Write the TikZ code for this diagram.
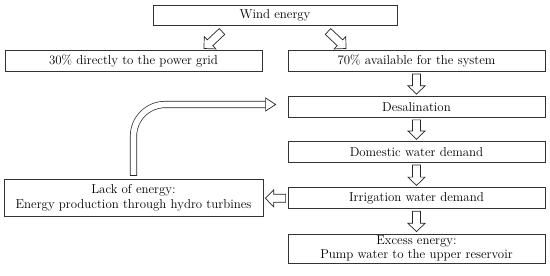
\documentclass[tikz,border=0pt]{standalone}
\usetikzlibrary{calc}

\begin{document}
\begin{tikzpicture}[
  x=0.03cm, y=-0.03cm,
  font=\fontsize{11}{12.5}\selectfont,
  box/.style={draw=black!80, line width=0.6pt, minimum width=7.71cm, minimum height=0.63cm,
    inner sep=1pt, align=center, text=black},
  hollow/.style={draw=black!85, line width=0.6pt, fill=white, line join=miter},
  bentshaft/.style={draw=black!85, line width=0.6pt, double=white, double distance=0.17cm}
]
  \useasboundingbox (0,0) rectangle (550,275);

  % Block arrow sizes (shaft half width, head half width, head length)
  \def\shafthalf{0.12cm}
  \def\headhalf{0.255cm}
  \def\headlen{0.25cm}
  \def\hollowarrow#1#2{%
    \coordinate (ha-s) at (#1);
    \coordinate (ha-e) at (#2);
    \coordinate (ha-b) at ($(ha-e)!\headlen!(ha-s)$);
    \draw[hollow] ($(ha-s)!\shafthalf!90:(ha-e)$) -- ($(ha-b)!\shafthalf!90:(ha-e)$)
      -- ($(ha-b)!\headhalf!90:(ha-e)$) -- (ha-e) -- ($(ha-b)!\headhalf!-90:(ha-e)$)
      -- ($(ha-b)!\shafthalf!-90:(ha-e)$) -- ($(ha-s)!\shafthalf!-90:(ha-e)$) -- cycle;
  }

  % Top and the split
  \node[box, minimum width=7.32cm, minimum height=0.62cm] (wind) at (275,15.3) {Wind energy};
  \node[box] (grid)  at (133.5,61.2) {30\% directly to the power grid};
  \node[box] (avail) at (416.5,61.2) {70\% available for the system};

  % Right column
  \node[box] (desal)    at (416.5,107)   {Desalination};
  \node[box] (domestic) at (416.5,152.2) {Domestic water demand};
  \node[box] (irrig)    at (416.5,198.3) {Irrigation water demand};
  \node[box, minimum height=0.87cm, inner sep=0pt, font=\fontsize{11}{11.5}\selectfont] (excess) at (416.5,248.5)
    {Excess energy:\\Pump water to the upper reservoir};

  % Left box, fed back into desalination
  \node[box, minimum width=7.77cm, minimum height=1.11cm] (lack) at (133.5,197.5)
    {Lack of energy:\\Energy production through hydro turbines};

  \hollowarrow{$(wind.south)+(-53,5.5)$}{$(wind.south)+(-71,22.5)$}
  \hollowarrow{$(wind.south)+(53,5.5)$}{$(wind.south)+(71,22.5)$}
  \hollowarrow{$(avail.south)+(0,2)$}{$(desal.north)+(0,-2)$}
  \hollowarrow{$(desal.south)+(0,2)$}{$(domestic.north)+(0,-2)$}
  \hollowarrow{$(domestic.south)+(0,2)$}{$(irrig.north)+(0,-2)$}
  \hollowarrow{$(irrig.south)+(0,2)$}{$(excess.north)+(0,-2)$}
  \hollowarrow{$(irrig.west)+(-2,0)$}{$(irrig.west -| lack.east)+(2,0)$}

  % Bent arrow
  \coordinate (bendstart) at ($(lack.north)+(0,-3)$);
  \coordinate (bendbase)  at ($(desal.west)+(-22,-2.5)$);
  \coordinate (bendtip)   at ($(desal.west)+(-12,-2.5)$);
  \draw[bentshaft, rounded corners=0.95cm] (bendstart) -- (bendstart |- bendbase) -- (bendbase);
  \draw[hollow] ($(bendstart)+(-3.5,0)$) -- ($(bendstart)+(3.5,0)$);
  \draw[hollow] (bendtip) -- ($(bendbase)+(0,-6.5)$) -- ($(bendbase)+(0,6.5)$) -- cycle;

\end{tikzpicture}
\end{document}
